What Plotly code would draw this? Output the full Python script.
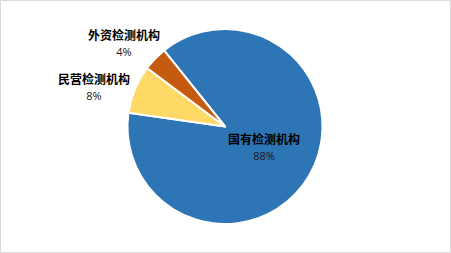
import plotly.graph_objects as go

categories = ["国有检测机构", "民营检测机构", "外资检测机构"]
values = [88, 8, 4]
colors = ["#2E75B6", "#FFD966", "#C55A11"]

W, H = 451, 253
total = sum(values)
pcts = [f"{v / total * 100:.0f}%" for v in values]

fig = go.Figure(go.Pie(
    labels=categories,
    values=values,
    sort=False,
    direction="clockwise",
    rotation=321.3,
    marker=dict(colors=colors, line=dict(color="white", width=2)),
    textinfo="none",
    hoverinfo="label+percent",
    showlegend=False,
    domain=dict(x=[127.5 / W, 322.5 / W], y=[29 / H, 224 / H]),
))

# label block centres (pixels from top-left)
label_pos = {
    "国有检测机构": (264, 146.5),
    "民营检测机构": (94, 86),
    "外资检测机构": (124, 42.5),
}

ann = []
for cat, p in zip(categories, pcts):
    x, y = label_pos[cat]
    ann.append(dict(x=x / W, y=1 - y / H, xref="paper", yref="paper",
                    text=f"<b>{cat}</b><br><span style='font-size:11px;font-family:Open Sans;color:#1a1a1a'>{p}</span>",
                    showarrow=False,
                    font=dict(family="Noto Sans CJK SC", size=12, color="#000000"),
                    xanchor="center", yanchor="middle", align="center"))

fig.update_layout(
    width=W, height=H,
    margin=dict(l=0, r=0, t=0, b=0),
    paper_bgcolor="white",
    plot_bgcolor="white",
    annotations=ann,
    shapes=[dict(type="rect", xref="paper", yref="paper",
                 x0=0.5 / W, x1=1 - 0.5 / W, y0=0.5 / H, y1=1 - 0.5 / H,
                 line=dict(color="#D9D9D9", width=1))],
)

fig.write_html("out.html")
